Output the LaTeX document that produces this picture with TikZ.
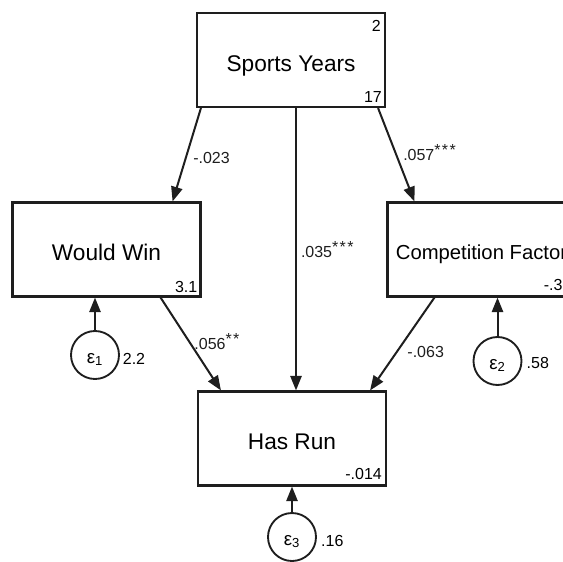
\documentclass[tikz,border=0pt]{standalone}
\usepackage{fontspec}
\setmainfont{Liberation Sans}
\usepackage{tikz}
\usetikzlibrary{arrows.meta, positioning, calc}
\definecolor{semline}{RGB}{30,30,30}
\newcommand{\sigmark}[1]{\smash{\raisebox{3.5pt}{#1}}}

\begin{document}
\begin{tikzpicture}[x=0.75pt, y=-0.75pt,
      box/.style={rectangle, draw=semline, line width=1.6pt, minimum width=141pt, minimum height=70.5pt, inner sep=0pt, text height=16.5pt, text depth=0pt, font=\fontsize{17}{20}\selectfont},
      err/.style={circle, draw=semline, line width=1.4pt, minimum size=36pt, inner sep=0pt, text height=12pt, text depth=0pt, font=\fontsize{14}{16}\selectfont},
      num/.style={inner sep=0pt, font=\fontsize{12}{14}\selectfont},
      arr/.style={-{Triangle[length=11pt, width=8.5pt]}, line width=1.5pt, semline}]
    \clip (0,0) rectangle (563,561);
    \node[box] (sy) at (291,60) {Sports Years}; \node[box] (ww) at (106.5,249.5) {Would Win};
    \node[box, font=\fontsize{15.2}{18}\selectfont, text height=14.5pt] (cf) at (481.5,249.5) {Competition Factor};
    \node[box] (hr) at (292,438.5) {Has Run};
    \node[num, anchor=north east] (sy2) at ($(sy.north east)+(-5,8)$) {2};
    \node[num, anchor=south east] (sy17) at ($(sy.south east)+(-4,-5)$) {17};
    \node[num, anchor=south east] (ww31) at ($(ww.south east)+(-4,-5)$) {3.1};
    \node[num, anchor=south west] (cf3) at ($(cf.south east)+(-33,-7)$) {-.3};
    \node[num, anchor=south east] (hr14) at ($(hr.south east)+(-5,-7)$) {-.014};
    \node[err] (e1) at (95,355) {ε\textsubscript{1}}; \node[num, right=2pt of e1, yshift=-3pt] (v1) {2.2};
    \node[err] (e2) at (497.5,361) {ε\textsubscript{2}}; \node[num, right=3pt of e2, yshift=-1.5pt] (v2) {.58};
    \node[err] (e3) at (292,537) {ε\textsubscript{3}}; \node[num, right=3pt of e3, yshift=-3pt] (v3) {.16};
    \draw[arr] ($(sy.south west)+(5,0)$) -- node[num, pos=0.54, right=5pt] {-.023} ($(ww.north east)+(-29,0)$);
    \draw[arr] ($(sy.south)+(5,0)$) -- node[num, pos=0.51, right=3pt] {.035\sigmark{*\kern1pt*\kern1pt*}} ($(hr.north)+(4,0)$);
    \draw[arr] ($(sy.south east)+(-8,0)$) -- node[num, pos=0.5, right=4.5pt] {.057\sigmark{*\kern1pt*\kern1pt*}} ($(cf.north west)+(28,0)$);
    \draw[arr] ($(ww.south east)+(-41,0)$) -- node[num, pos=0.5, right=2pt] {.056\sigmark{*\kern1pt*}} ($(hr.north west)+(24,0)$);
    \draw[arr] ($(cf.south west)+(48,0)$) -- node[num, pos=0.59, right=7.5pt] {-.063} ($(hr.north east)+(-17,0)$);
    \draw[arr] (e1) -- (e1 |- ww.south); \draw[arr] (e2) -- (e2 |- cf.south);
    \draw[arr] (e3) -- (e3 |- hr.south);
  \end{tikzpicture}
\end{document}
